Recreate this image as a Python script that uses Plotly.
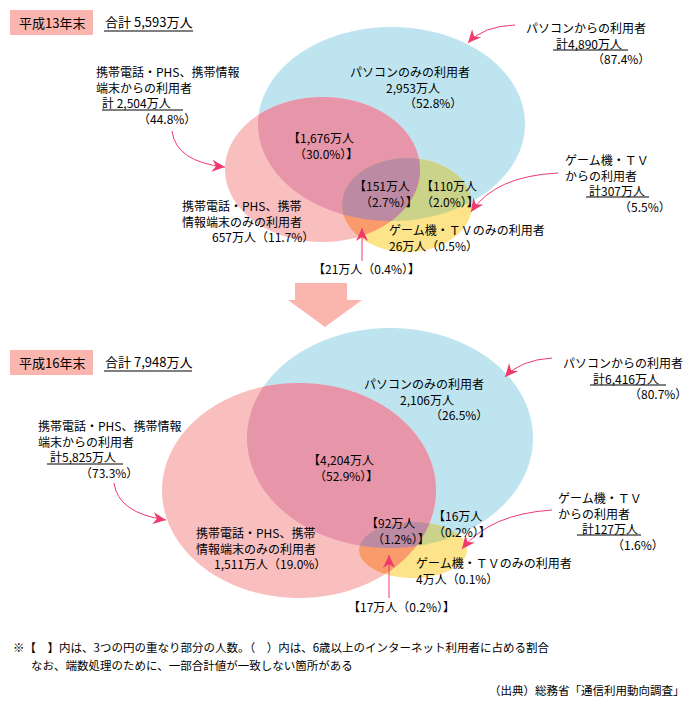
import numpy as np
import plotly.graph_objects as go

# ---------------- data ----------------
periods = ["平成13年末", "平成16年末"]
grand_total = [5593, 7948]
pc_total = [4890, 6416]
pc_total_pct = [87.4, 80.7]
mobile_total = [2504, 5825]
mobile_total_pct = [44.8, 73.3]
game_total = [307, 127]
game_total_pct = [5.5, 1.6]
pc_only = [2953, 2106]
pc_only_pct = [52.8, 26.5]
mobile_only = [657, 1511]
mobile_only_pct = [11.7, 19.0]
game_only = [26, 4]
game_only_pct = [0.5, 0.1]
pc_mobile = [1676, 4204]
pc_mobile_pct = [30.0, 52.9]
pc_mobile_game = [151, 92]
pc_mobile_game_pct = [2.7, 1.2]
pc_game = [110, 16]
pc_game_pct = [2.0, 0.2]
mobile_game = [21, 17]
mobile_game_pct = [0.4, 0.2]

note_lines = ["※【　】内は、3つの円の重なり部分の人数。（　）内は、6歳以上のインターネット利用者に占める割合",
              "なお、端数処理のために、一部合計値が一致しない箇所がある"]
source_text = "（出典）総務省「通信利用動向調査」"

# ---------------- styles ----------------
C_BLUE = "#BEE5EF"
C_PINK = "#F9BFBF"
C_YEL = "#FDE48A"
C_BP = "#E796AA"
C_BY = "#CBD28A"
C_PY = "#F99B6B"
C_BPY = "#BC8BA3"
C_BOX = "#FBB5AF"
C_ARR = "#EF3A6B"
FONT = "Noto Sans CJK JP, sans-serif"

W, H = 691, 708


def n(v):
    return f"{v:,}万人"


def p(v):
    return f"（{v:.1f}%）"


def ell_pts(e, k=900):
    cx, cy, a, b = e
    t = np.linspace(0, 2 * np.pi, k, endpoint=False)
    return cx + a * np.cos(t), cy + b * np.sin(t)


def inside(e, x, y):
    cx, cy, a, b = e
    return ((x - cx) / a) ** 2 + ((y - cy) / b) ** 2 <= 1.0000001


def region(*es):
    xs, ys = [], []
    for i, e in enumerate(es):
        x, y = ell_pts(e)
        m = np.ones_like(x, dtype=bool)
        for j, f in enumerate(es):
            if j != i:
                m &= inside(f, x, y)
        xs.append(x[m]); ys.append(y[m])
    x = np.concatenate(xs); y = np.concatenate(ys)
    cx, cy = x.mean(), y.mean()
    order = np.argsort(np.arctan2(y - cy, x - cx))
    x, y = x[order], y[order]
    return "M " + " L ".join(f"{a:.2f},{b:.2f}" for a, b in zip(x, y)) + " Z"


shapes = []
annots = []


def fill_path(path, color):
    shapes.append(dict(type="path", path=path, xref="x", yref="y",
                       fillcolor=color, line=dict(width=0), layer="below"))


def ind(px):
    full = int(px // 12)
    rem = px - 12 * full
    en = int(round(rem / 6.0))
    if en == 2:
        full += 1; en = 0
    return "\u3000" * full + "\u2002" * en


def block(x, y, lines, anchor="left", size=12):
    """lines: list of (indent_px, text); y = vertical centre of the block"""
    s = "<br>".join(ind(i) + t for i, t in lines)
    annots.append(dict(x=x, y=y, text=s, showarrow=False, xanchor=anchor,
                       yanchor="middle", align="left", xref="x", yref="y",
                       borderpad=0,
                       font=dict(family=FONT, size=size, color="black")))


def txt(x, y, s, anchor="left", size=12):
    block(x, y, [(0, s)], anchor, size)


def uline(x0, x1, y):
    shapes.append(dict(type="line", x0=x0, x1=x1, y0=y, y1=y, xref="x", yref="y",
                       line=dict(color="black", width=1)))


def arrow(start, ctrl, tip):
    sx, sy = start; cx, cy = ctrl; tx, ty = tip
    shapes.append(dict(type="path", path=f"M {sx},{sy} Q {cx},{cy} {tx},{ty}",
                       xref="x", yref="y", line=dict(color=C_ARR, width=1)))
    d = np.array([tx - cx, ty - cy], dtype=float)
    d /= np.linalg.norm(d)
    nrm = np.array([-d[1], d[0]])
    L, hw = 13, 6
    base = np.array([tx, ty]) - d * L
    notch = np.array([tx, ty]) - d * L * 0.7
    p1 = base + nrm * hw
    p2 = base - nrm * hw
    shapes.append(dict(type="path",
                       path=f"M {tx},{ty} L {p1[0]:.2f},{p1[1]:.2f} L {notch[0]:.2f},{notch[1]:.2f} L {p2[0]:.2f},{p2[1]:.2f} Z",
                       xref="x", yref="y", fillcolor=C_ARR, line=dict(width=0)))


def venn(blue, pink, yel):
    for e, c in [(blue, C_BLUE), (pink, C_PINK), (yel, C_YEL)]:
        fill_path(region(e), c)
    fill_path(region(blue, pink), C_BP)
    fill_path(region(blue, yel), C_BY)
    fill_path(region(pink, yel), C_PY)
    fill_path(region(blue, pink, yel), C_BPY)


# ---------------- top panel (index 0) ----------------
i = 0
venn((391.5, 124, 133.5, 97), (322.5, 169.5, 97.5, 72.5), (407, 205, 65, 47))
shapes.append(dict(type="rect", x0=10, x1=93, y0=10, y1=35, xref="x", yref="y",
                   fillcolor=C_BOX, line=dict(width=0)))
txt(51.5, 22.5, periods[i], "center", 13)
txt(104, 21, "合計 " + f"{grand_total[i]:,}万人", size=13)
uline(104, 193, 31)

block(95, 95, [(0, "携帯電話・PHS、携帯情報"), (0, "端末からの利用者"),
               (8, "計 " + n(mobile_total[i])), (48, p(mobile_total_pct[i]))])
uline(102, 183, 110)

block(525, 42.5, [(0, "パソコンからの利用者"), (29, "計" + n(pc_total[i])),
                  (65, p(pc_total_pct[i]))])
uline(553, 628, 50)

block(349, 86.5, [(0, "パソコンのみの利用者"), (34, n(pc_only[i])),
                  (63, p(pc_only_pct[i]))])

block(287, 145.5, [(0, "【" + n(pc_mobile[i])), (13, p(pc_mobile_pct[i]) + "】")])
block(353, 193.5, [(0, "【" + n(pc_mobile_game[i])), (4, p(pc_mobile_game_pct[i]) + "】")])
block(420, 193.5, [(0, "【" + n(pc_game[i])), (0, p(pc_game_pct[i]) + "】")])

block(388, 237.5, [(0, "ゲーム機・ＴＶのみの利用者"),
                   (0, n(game_only[i]) + p(game_only_pct[i]))])

block(181, 221, [(0, "携帯電話・PHS、携帯"), (0, "情報端末のみの利用者"),
                 (28, n(mobile_only[i]) + p(mobile_only_pct[i]))])

txt(312, 268, "【" + n(mobile_game[i]) + p(mobile_game_pct[i]) + "】")

block(564, 182.5, [(0, "ゲーム機・ＴＶ"), (0, "からの利用者"),
                   (24, "計" + n(game_total[i])), (56, p(game_total_pct[i]))])
uline(586, 649, 197)

arrow((515, 25), (483, 26), (468, 43))
arrow((172, 131), (176, 162), (225, 167))
arrow((558, 173), (495, 176), (471, 212))
arrow((362, 261), (362, 245), (362, 228))

# big down arrow
shapes.append(dict(type="path",
                   path="M 295,283 L 347,283 L 347,300 L 362,300 L 325,327 L 288,300 L 295,300 Z",
                   xref="x", yref="y", fillcolor=C_BOX, line=dict(width=0)))

# ---------------- bottom panel (index 1) ----------------
i = 1
venn((390, 438, 143, 110), (299, 490.5, 137, 107.5), (413, 550, 54, 28))
shapes.append(dict(type="rect", x0=10, x1=93, y0=350, y1=375, xref="x", yref="y",
                   fillcolor=C_BOX, line=dict(width=0)))
txt(51.5, 362.5, periods[i], "center", 13)
txt(104, 361, "合計 " + f"{grand_total[i]:,}万人", size=13)
uline(104, 192, 371)

block(37, 449, [(0, "携帯電話・PHS、携帯情報"), (0, "端末からの利用者"),
                (11, "計" + n(mobile_total[i])), (51, p(mobile_total_pct[i]))])
uline(47, 123, 464)

block(562, 377.5, [(0, "パソコンからの利用者"), (30, "計" + n(pc_total[i])),
                   (66, p(pc_total_pct[i]))])
uline(590, 666, 385)

block(363, 399, [(0, "パソコンのみの利用者"), (37, n(pc_only[i])),
                 (64, p(pc_only_pct[i]))])

block(307, 467.5, [(0, "【" + n(pc_mobile[i])), (15, p(pc_mobile_pct[i]) + "】")])
block(365, 530, [(0, "【" + n(pc_mobile_game[i])), (7, p(pc_mobile_game_pct[i]) + "】")])
block(432, 523.5, [(0, "【" + n(pc_game[i])), (0, p(pc_game_pct[i]) + "】")])

block(415, 570, [(0, "ゲーム機・ＴＶのみの利用者"),
                 (0, n(game_only[i]) + p(game_only_pct[i]))])

block(195, 548, [(0, "携帯電話・PHS、携帯"), (0, "情報端末のみの利用者"),
                 (20, n(mobile_only[i]) + p(mobile_only_pct[i]))])

txt(347, 606, "【" + n(mobile_game[i]) + p(mobile_game_pct[i]) + "】")

block(557, 520.5, [(0, "ゲーム機・ＴＶ"), (0, "からの利用者"),
                   (22, "計" + n(game_total[i])), (58, p(game_total_pct[i]))])
uline(577, 641, 535)

arrow((552, 358), (520, 360), (505, 377))
arrow((114, 483), (118, 513), (166, 520))
arrow((552, 510), (490, 514), (462, 549))
arrow((389, 598), (389, 575), (389, 555))

# ---------------- footer ----------------
txt(12, 647, note_lines[0], size=11.5)
txt(30, 665, note_lines[1], size=11.5)
txt(686, 690, source_text, "right", size=11.5)

fig = go.Figure()
fig.update_layout(
    width=W, height=H, autosize=False,
    margin=dict(l=0, r=0, t=0, b=0, pad=0),
    paper_bgcolor="white", plot_bgcolor="white",
    xaxis=dict(range=[0, W], visible=False, fixedrange=True),
    yaxis=dict(range=[H, 0], visible=False, fixedrange=True),
    shapes=shapes, annotations=annots, showlegend=False,
)
fig.write_html("out.html", config={"displayModeBar": False},
               post_script="document.body.style.margin='0';")
